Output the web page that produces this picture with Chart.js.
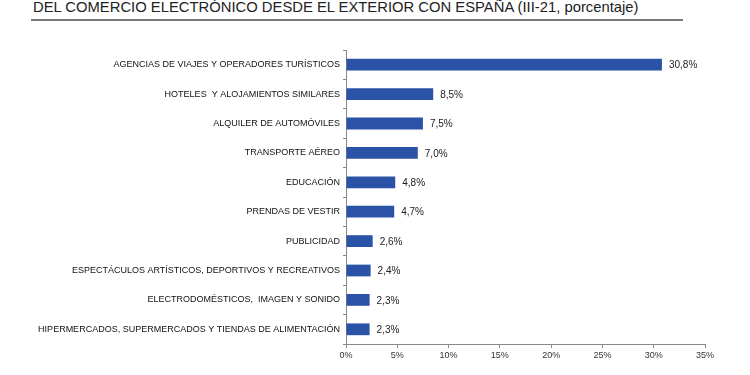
<!DOCTYPE html>
<html>
<head>
<meta charset="utf-8">
<script src="https://cdn.jsdelivr.net/npm/chart.js@4.4.1/dist/chart.umd.min.js"></script>
<style>
  html, body { margin: 0; padding: 0; background: #fff; }
  #wrap { position: relative; width: 750px; height: 375px; overflow: hidden; }
  #title { position: absolute; left: 33px; top: -1px; font-family: "Liberation Sans", Arial, sans-serif; font-size: 14.8px; color: #222; white-space: nowrap; }
  #rule { position: absolute; left: 31px; top: 19px; width: 652px; height: 2px; background: #777; }
  canvas { position: absolute; left: 0; top: 0; }
</style>
</head>
<body>
<div id="wrap">
  <div id="title">DEL COMERCIO ELECTRÓNICO DESDE EL EXTERIOR CON ESPAÑA (III-21, porcentaje)</div>
  <div id="rule"></div>
  <canvas id="c" width="750" height="375"></canvas>
</div>
<script>
const categories = [
  "AGENCIAS DE VIAJES Y OPERADORES TURÍSTICOS",
  "HOTELES  Y ALOJAMIENTOS SIMILARES",
  "ALQUILER DE AUTOMÓVILES",
  "TRANSPORTE AÉREO",
  "EDUCACIÓN",
  "PRENDAS DE VESTIR",
  "PUBLICIDAD",
  "ESPECTÁCULOS ARTÍSTICOS, DEPORTIVOS Y RECREATIVOS",
  "ELECTRODOMÉSTICOS,  IMAGEN Y SONIDO",
  "HIPERMERCADOS, SUPERMERCADOS Y TIENDAS DE ALIMENTACIÓN"
];
const values = [30.8, 8.5, 7.5, 7.0, 4.8, 4.7, 2.6, 2.4, 2.3, 2.3];
const xTicks = [0, 5, 10, 15, 20, 25, 30, 35];

const fmt = v => v.toFixed(1).replace('.', ',') + '%';

const valueLabels = {
  id: 'valueLabels',
  afterDatasetsDraw(chart) {
    const ctx = chart.ctx;
    const meta = chart.getDatasetMeta(0);
    ctx.save();
    ctx.font = '10px "Liberation Sans", Arial, sans-serif';
    ctx.fillStyle = '#222';
    ctx.textBaseline = 'middle';
    ctx.textAlign = 'left';
    meta.data.forEach((bar, i) => {
      ctx.fillText(fmt(values[i]), bar.x + 7, bar.y + 1);
    });
    ctx.restore();
  }
};

new Chart(document.getElementById('c'), {
  type: 'bar',
  data: {
    labels: categories,
    datasets: [{
      data: values,
      backgroundColor: '#2a52a6',
      borderWidth: 0,
      categoryPercentage: 1,
      barPercentage: 0.4
    }]
  },
  options: {
    indexAxis: 'y',
    responsive: false,
    animation: false,
    layout: { padding: { top: 50, right: 45, bottom: 0, left: 0 } },
    plugins: { legend: { display: false }, tooltip: { enabled: false }, title: { display: false } },
    scales: {
      x: {
        min: 0, max: 35,
        afterBuildTicks(scale) { scale.ticks = xTicks.map(v => ({ value: v })); },
        afterFit(scale) { scale.height = 31; },
        grid: { drawOnChartArea: false, drawTicks: true, tickLength: 4, color: '#888' },
        border: { color: '#888', width: 1 },
        ticks: {
          padding: 2,
          color: '#333',
          font: { family: '"Liberation Sans", Arial, sans-serif', size: 9 },
          callback: v => v + '%'
        }
      },
      y: {
        afterFit(scale) { scale.width = 346; },
        grid: { drawOnChartArea: false, drawTicks: true, tickLength: 3, color: '#888', offset: true },
        border: { color: '#888', width: 1 },
        ticks: {
          padding: 3,
          color: '#111',
          autoSkip: false,
          font: { family: '"Liberation Sans", Arial, sans-serif', size: 9 }
        }
      }
    }
  },
  plugins: [valueLabels]
});
</script>
</body>
</html>
